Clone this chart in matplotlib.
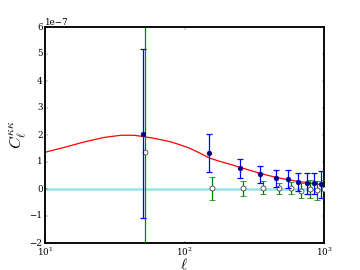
import numpy as np
import matplotlib
matplotlib.use("Agg")
import matplotlib.pyplot as plt

plt.style.use('classic')
plt.rcParams['font.family'] = 'serif'
plt.rcParams['mathtext.fontset'] = 'cm'

# theory curve (units of 1e-7)
ell_theory = [10, 13.7, 19, 26.5, 35, 43.5, 51, 60, 70, 79, 90, 109, 130, 152,
              180, 211, 250, 300, 348, 400, 455, 570, 650, 750, 870, 1000]
cl_theory = [1.36, 1.54, 1.74, 1.91, 1.99, 1.99, 1.94, 1.88, 1.81, 1.75, 1.66,
             1.51, 1.32, 1.14, 1.02, 0.92, 0.80, 0.68, 0.58, 0.50, 0.43, 0.33,
             0.28, 0.24, 0.19, 0.15]

# measured cross spectrum (units of 1e-7)
ell_data = [50, 150, 250, 350, 450, 550, 650, 750, 850, 950]
cl_data = [2.05, 1.33, 0.77, 0.54, 0.40, 0.37, 0.27, 0.21, 0.22, 0.17]
err_data = [3.14, 0.705, 0.355, 0.30, 0.32, 0.32, 0.33, 0.38, 0.39, 0.50]

# null test (units of 1e-7); first bin's error bar runs off the plot
ell_null = [52.5, 157.5, 262.5, 367.5, 472.5, 577.5, 682.5, 787.5, 892.5, 997.5]
cl_null = [1.37, 0.02, 0.03, 0.05, 0.02, 0.03, -0.06, 0.00, -0.05, 0.00]
err_null_lo = [3.37, 0.44, 0.28, 0.25, 0.22, 0.23, 0.28, 0.32, 0.36, 0.35]
err_null_hi = [4.63, 0.44, 0.28, 0.25, 0.22, 0.23, 0.28, 0.32, 0.36, 0.35]

scale = 1e-7

fig = plt.figure(figsize=(8, 6), dpi=45)
ax = fig.add_subplot(111)

ax.axhline(0, color='c', alpha=0.4, lw=4, zorder=1)
ax.plot(ell_theory, np.array(cl_theory) * scale, color='r', lw=2, zorder=2)

null_y = np.array(cl_null) * scale
null_err = np.array([err_null_lo, err_null_hi]) * scale
common = dict(fmt='o', ecolor='g', mfc='white', mec='#333333', ms=8,
              elinewidth=2, capthick=2, mew=1.2, zorder=3)
ax.errorbar(ell_null[:1], null_y[:1], yerr=null_err[:, :1], capsize=0, **common)
ax.errorbar(ell_null[1:], null_y[1:], yerr=null_err[:, 1:], capsize=5, **common)

ax.errorbar(ell_data, np.array(cl_data) * scale, yerr=np.array(err_data) * scale,
            fmt='o', ecolor='b', mfc='darkblue', mec='darkblue',
            ms=8, capsize=5, elinewidth=2, capthick=2, zorder=4)

ax.set_xscale('log')
ax.set_xlim(10, 1000)
ax.set_ylim(-2e-7, 6e-7)
ax.set_yticks(np.arange(-2, 7, 1) * scale)
for s in ax.spines.values():
    s.set_linewidth(3)
ax.set_xlabel(r'$\ell$', fontsize=24, labelpad=-1)
ax.set_ylabel(r'$C_\ell^{\kappa\kappa}$', fontsize=26, labelpad=2)
ax.tick_params(labelsize=14)
ax.yaxis.get_offset_text().set_fontsize(14)

fig.savefig('out.png', dpi=45)
